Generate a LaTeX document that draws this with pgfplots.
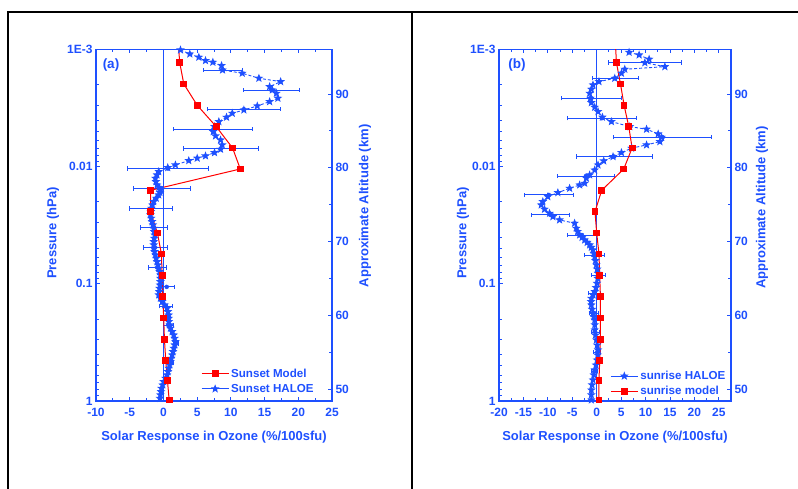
\documentclass[border=0pt]{standalone}
\usepackage{fontspec}
\setmainfont{Liberation Sans}
\usepackage{pgfplots}
\pgfplotsset{compat=1.18}
\usetikzlibrary{plotmarks}
\definecolor{oblue}{HTML}{1E50FF}
\definecolor{ored}{HTML}{FF0000}

% filled five-pointed star
\pgfdeclareplotmark{fstar}{%
  \pgfpathmoveto{\pgfpointpolar{90}{\pgfplotmarksize}}%
  \pgfpathlineto{\pgfpointpolar{126}{0.42\pgfplotmarksize}}%
  \pgfpathlineto{\pgfpointpolar{162}{\pgfplotmarksize}}%
  \pgfpathlineto{\pgfpointpolar{198}{0.42\pgfplotmarksize}}%
  \pgfpathlineto{\pgfpointpolar{234}{\pgfplotmarksize}}%
  \pgfpathlineto{\pgfpointpolar{270}{0.42\pgfplotmarksize}}%
  \pgfpathlineto{\pgfpointpolar{306}{\pgfplotmarksize}}%
  \pgfpathlineto{\pgfpointpolar{342}{0.42\pgfplotmarksize}}%
  \pgfpathlineto{\pgfpointpolar{18}{\pgfplotmarksize}}%
  \pgfpathlineto{\pgfpointpolar{54}{0.42\pgfplotmarksize}}%
  \pgfpathclose\pgfusepathqfillstroke}

\newcommand\labfont{\color{oblue}\bfseries\fontsize{13}{15}\selectfont}
\newcommand\legfont{\color{oblue}\bfseries\fontsize{11.6}{14}\selectfont}

\pgfplotsset{
  obase/.style={
    scale only axis, height=351.5pt,
    axis line style={oblue, line width=1.6pt},
    every tick/.style={oblue, line width=0.9pt},
    major tick length=4pt, minor tick length=2.6pt,
    tick align=inside,
    tick label style={font=\bfseries\fontsize{12}{14}\selectfont, text=oblue},
    /pgf/number format/assume math mode=true,
  },
  altaxis/.style={
    obase,
    ymin=48.37, ymax=96.03,
    ytick={50,60,70,80,90}, minor y tick num=1,
    ytick pos=right, yticklabel pos=right,
    xtick pos=both, xticklabel pos=left,
    minor x tick num=1,
    xticklabel shift=4pt,
    ylabel={Approximate Altitude (km)},
    xlabel={Solar Response in Ozone (\%/100sfu)},
    every axis x label/.style={at={(axis description cs:0.5,-0.102)}, anchor=center, font=\labfont},
    legend cell align=left,
    legend image code/.code={\draw[mark repeat=2,mark phase=2,##1,solid] plot coordinates {(0pt,0pt) (13.5pt,0pt) (27pt,0pt)};},
  },
  presaxis/.style={
    obase,
    ymin=1e-3, ymax=1,
    ytick={0.001,0.01,0.1,1}, yticklabels={1E-3,0.01,0.1,1},
    hide x axis, axis y line*=left,
    ylabel={Pressure (hPa)},
  },
  halo/.style={oblue, line width=0.9pt, dash pattern=on 3pt off 2pt,
    mark=fstar, mark size=3.3pt, mark options={solid, fill=oblue}},
  model/.style={ored, line width=1pt, mark=square*, mark size=2.9pt,
    mark options={solid, fill=ored}},
  ebar/.style={forget plot, only marks, mark=none, oblue,
    error bars/.cd, x dir=both, x explicit, error mark=|,
    error bar style={oblue, line width=0.9pt, solid},
    error mark options={oblue, line width=0.9pt, mark size=2.2pt, solid}},
}

\pgfplotstableread{
v alt
2.17 97.13
2.42 94.24
3.02 91.36
5.01 88.47
7.83 85.57
10.25 82.68
11.40 79.83
-1.89 76.94
-1.93 74.04
-0.89 71.15
-0.30 68.31
-0.19 65.36
-0.10 62.51
0.04 59.63
0.15 56.74
0.34 53.89
0.59 51.18
0.85 48.51
}\sunsetmodel

\pgfplotstableread{
v alt
2.53 95.97
3.91 95.42
5.25 94.98
6.24 94.52
7.33 94.30
8.62 93.85
8.77 93.25
11.69 92.81
14.16 92.13
17.38 91.67
15.75 90.99
16.15 90.54
16.75 90.09
16.98 89.42
15.75 88.96
13.92 88.37
11.93 87.83
10.21 87.38
9.36 86.84
8.22 86.25
7.58 85.57
7.38 84.89
7.73 84.31
8.47 83.76
8.72 83.09
8.47 82.50
7.58 82.04
6.24 81.60
5.01 81.29
3.76 80.96
1.78 80.38
0.64 80.01
-0.70 79.46
-0.97 79.02
-1.19 78.57
-1.11 78.11
-0.94 77.66
-0.67 77.32
-0.45 76.98
-0.52 76.64
-0.70 76.31
-1.07 75.86
-1.44 75.40
-1.63 74.95
-1.78 74.50
-1.86 74.05
-1.93 73.60
-1.81 73.15
-1.68 72.69
-1.56 72.24
-1.44 71.79
-1.37 71.33
-1.29 70.88
-1.37 70.43
-1.44 69.97
-1.44 69.53
-1.44 69.08
-1.31 68.62
-1.19 68.17
-1.07 67.72
-0.94 67.26
-0.82 66.81
-0.70 66.37
-0.56 65.91
-0.45 65.46
-0.45 65.00
-0.45 64.55
-0.52 64.10
-0.59 63.65
-0.64 63.19
-0.70 62.75
-0.45 62.30
-0.19 61.84
0.18 61.39
0.55 60.94
0.67 60.48
0.79 60.03
0.79 59.59
0.79 59.13
0.92 58.68
1.04 58.23
1.29 57.77
1.53 57.32
1.66 56.87
1.78 56.41
1.66 55.97
1.53 55.52
1.41 55.06
1.29 54.61
1.16 54.16
1.04 53.70
0.92 53.25
0.79 52.81
0.67 52.35
0.55 51.90
0.30 51.45
0.04 50.99
-0.12 50.54
-0.30 50.09
-0.37 49.63
-0.45 49.19
-0.52 48.73
-0.59 48.28
}\sunsethaloe

\pgfplotstableread{
v alt e
8.84 93.25 2.85
16.00 90.54 4.20
11.93 87.93 5.45
7.40 85.22 5.87
8.50 82.60 5.57
0.67 79.89 5.97
-0.19 77.18 4.20
-1.86 74.47 3.15
-1.38 71.89 2.03
-1.23 69.18 1.78
-0.92 66.47 1.36
0.49 63.84 1.19
0.37 61.22 0.92
0.74 58.64 0.70
1.90 56.16 0.37
1.26 53.53 0.30
0.30 50.96 0.30
}\sunseterr

\pgfplotstableread{
v alt
3.80 97.13
4.05 94.24
4.87 91.36
5.61 88.47
6.57 85.57
7.25 82.68
5.54 79.83
1.03 76.94
-0.35 74.04
0.00 71.15
0.47 68.31
0.62 65.36
0.76 62.51
0.76 59.63
0.76 56.74
0.62 53.89
0.47 51.18
0.47 48.51
}\sunrisemodel

\pgfplotstableread{
v alt
6.63 95.65
8.69 95.29
10.74 94.71
9.86 94.24
13.96 93.70
5.75 93.35
5.07 92.81
3.70 92.13
0.47 91.67
-0.76 91.22
-1.09 90.64
-1.44 90.09
-1.29 89.42
-1.09 88.82
-0.41 88.20
0.27 87.61
1.17 86.85
3.02 86.25
6.78 85.57
10.21 85.22
12.59 84.58
13.29 84.13
12.94 83.54
10.21 83.09
7.13 82.64
5.07 82.05
3.35 81.50
1.44 80.92
0.27 80.37
-0.41 79.69
-1.44 79.02
-2.11 78.57
-2.46 77.89
-3.49 77.66
-5.54 77.21
-7.95 76.62
-10.00 76.07
-11.03 75.40
-11.36 74.95
-10.68 74.37
-9.65 73.82
-8.97 73.36
-7.60 72.92
-4.52 72.47
-4.17 71.79
-3.90 71.35
-3.49 70.88
-3.00 70.55
-2.46 70.20
-1.95 69.87
-1.44 69.53
-1.10 69.20
-0.76 68.85
-0.60 68.40
-0.41 67.94
-0.25 67.40
-0.06 66.81
0.10 66.25
0.27 65.69
0.20 65.00
0.06 64.33
-0.15 63.75
-0.41 63.19
-0.75 62.75
-1.09 62.29
-1.15 61.85
-1.09 61.39
-0.95 60.80
-0.76 60.26
-0.60 59.80
-0.41 59.35
-0.40 58.70
-0.41 58.00
-0.25 57.30
-0.06 56.64
0.10 55.95
0.27 55.29
0.20 54.60
0.06 53.93
-0.15 53.25
-0.41 52.58
-0.60 51.90
-0.76 51.22
-0.95 50.55
-1.09 49.86
-1.10 49.20
-1.09 48.51
}\sunrisehaloe

\pgfplotstableread{
v alt e
9.86 94.24 7.50
3.80 92.13 4.70
-1.09 89.42 6.20
1.03 86.71 7.10
13.51 84.13 10.00
3.59 81.50 7.80
-2.20 78.88 5.90
-9.79 76.31 5.10
-9.49 73.60 3.90
-3.04 70.88 3.00
-0.41 68.17 2.05
0.37 65.46 1.50
-0.40 62.98 1.20
-0.50 60.30 0.90
-0.30 57.70 0.80
0.10 55.00 0.70
-0.40 52.40 0.60
}\sunriseerr

\begin{document}
\begin{tikzpicture}
\useasboundingbox (0,0) rectangle (798pt,489pt);

% ---- panel (a)
\begin{axis}[altaxis, at={(96pt,88pt)}, anchor=south west, width=236pt,
  xmin=-10, xmax=25, xtick={-10,-5,...,25},
  every axis y label/.style={at={(axis description cs:1.14,0.555)}, rotate=90, anchor=center, font=\labfont},
  reverse legend,
  legend style={draw=none, fill=none, font=\legfont,
    at={(axis description cs:0.432,0.104)}, anchor=north west, row sep=1.5pt},
]
\addplot[oblue, line width=1pt, forget plot] coordinates {(0,40) (0,100)};
\addplot[ebar] table[x=v, y=alt, x error=e] {\sunseterr};
\addplot[halo] table[x=v, y=alt] {\sunsethaloe};
\addlegendentry{Sunset HALOE}
\addplot[model] table[x=v, y=alt] {\sunsetmodel};
\addlegendentry{Sunset Model}
\end{axis}
\begin{axis}[presaxis, ymode=log, y dir=reverse, at={(96pt,88pt)}, anchor=south west, width=236pt,
  xmin=-10, xmax=25,
  every axis y label/.style={at={(axis description cs:-0.182,0.478)}, rotate=90, anchor=center, font=\labfont},
]
\addplot[draw=none, forget plot] coordinates {(0,0.01)};
\end{axis}
\node[font=\bfseries\fontsize{13.5}{15}\selectfont, text=oblue] at (111pt,424pt) {(a)};

% ---- panel (b)
\begin{axis}[altaxis, at={(499pt,88pt)}, anchor=south west, width=232pt,
  xmin=-20, xmax=27.5, xtick={-20,-15,...,25},
  every axis y label/.style={at={(axis description cs:1.134,0.55)}, rotate=90, anchor=center, font=\labfont},
  legend style={draw=none, fill=none, font=\legfont,
    at={(axis description cs:0.466,0.097)}, anchor=north west, row sep=1.5pt},
]
\addplot[oblue, line width=1pt, forget plot] coordinates {(0,40) (0,100)};
\addplot[ebar] table[x=v, y=alt, x error=e] {\sunriseerr};
\addplot[halo] table[x=v, y=alt] {\sunrisehaloe};
\addlegendentry{sunrise HALOE}
\addplot[model] table[x=v, y=alt] {\sunrisemodel};
\addlegendentry{sunrise model}
\end{axis}
\begin{axis}[presaxis, ymode=log, y dir=reverse, at={(499pt,88pt)}, anchor=south west, width=232pt,
  xmin=-20, xmax=27.5,
  every axis y label/.style={at={(axis description cs:-0.155,0.478)}, rotate=90, anchor=center, font=\labfont},
]
\addplot[draw=none, forget plot] coordinates {(0,0.01)};
\end{axis}
\node[font=\bfseries\fontsize{13.5}{15}\selectfont, text=oblue] at (517pt,424pt) {(b)};

% ---- frame
\draw[black, line width=1.6pt] (8pt,0) -- (8pt,477pt) -- (798pt,477pt);
\draw[black, line width=1.6pt] (412pt,0) -- (412pt,477pt);
\end{tikzpicture}
\end{document}
